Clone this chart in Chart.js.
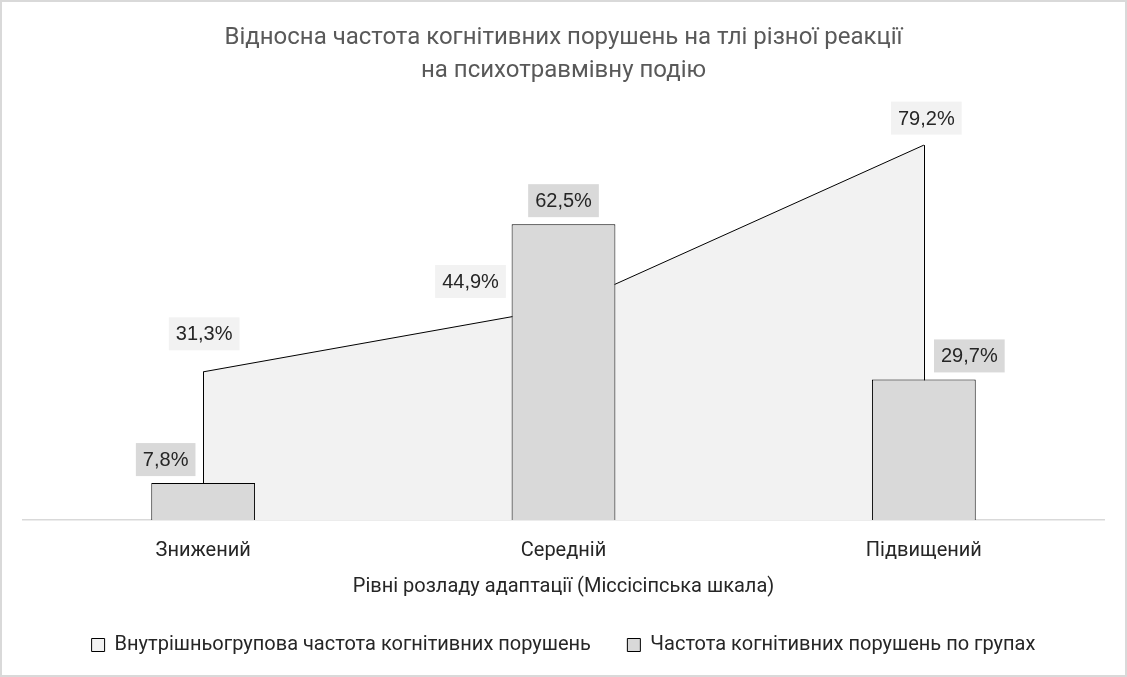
<!DOCTYPE html>
<html lang="uk">
<head>
<meta charset="utf-8">
<script src="https://cdn.jsdelivr.net/npm/chart.js@4"></script>
<style>
  html, body { margin: 0; padding: 0; background: #fff; }
  #wrap { position: relative; width: 1127px; height: 677px; }
  #frame { position: absolute; left: 0; top: 0; width: 1127px; height: 677px; box-sizing: border-box;
           border: 2px solid #d9d9d9; pointer-events: none; }
  canvas { position: absolute; left: 0; top: 0; }
</style>
</head>
<body>
<div id="wrap">
  <canvas id="c" width="1127" height="677"></canvas>
  <div id="frame"></div>
</div>
<script>
// ---- data ----
const categories = ['Знижений', 'Середній', 'Підвищений'];
const withinGroupLabel = 'Внутрішньогрупова частота когнітивних порушень';
const withinGroupValues = [31.3, 44.9, 79.2];
const byGroupLabel = 'Частота когнітивних порушень по групах';
const byGroupValues = [7.8, 62.5, 29.7];
const titleLines = ['Відносна частота когнітивних порушень на тлі різної реакції', 'на психотравмівну подію'];
const xAxisTitle = 'Рівні розладу адаптації (Міссісіпська шкала)';

const TXTFONT = 'Roboto, "Noto Sans", sans-serif';
const LABELFONT = '"Liberation Sans", Arial, sans-serif';

function fmt(v) { return v.toFixed(1).replace('.', ',') + '%'; }

// draws vertical edges of the area series
const areaEdges = {
  id: 'areaEdges',
  afterDatasetDraw(chart, args) {
    if (args.index !== 0) return;
    const pts = args.meta.data;
    if (!pts.length) return;
    const y0 = chart.scales.y.getPixelForValue(0);
    const ctx = chart.ctx;
    ctx.save();
    ctx.strokeStyle = '#000';
    ctx.lineWidth = 1;
    [pts[0], pts[pts.length - 1]].forEach(p => {
      ctx.beginPath();
      ctx.moveTo(Math.round(p.x) + 0.5, p.y);
      ctx.lineTo(Math.round(p.x) + 0.5, y0);
      ctx.stroke();
    });
    ctx.restore();
  }
};

// data labels with background boxes
const valueLabels = {
  id: 'valueLabels',
  afterDatasetsDraw(chart, args, opts) {
    const ctx = chart.ctx;
    ctx.save();
    ctx.font = '20px ' + LABELFONT;
    ctx.textAlign = 'center';
    ctx.textBaseline = 'middle';
    chart.data.datasets.forEach((ds, di) => {
      const meta = chart.getDatasetMeta(di);
      const offs = opts.offsets[di];
      const bg = opts.backgrounds[di];
      meta.data.forEach((el, i) => {
        const txt = fmt(ds.data[i]);
        const cx = el.x + offs[i][0];
        const cy = el.y + offs[i][1];
        const w = ctx.measureText(txt).width + 14;
        const h = 33;
        ctx.fillStyle = bg;
        ctx.fillRect(cx - w / 2, cy - h / 2, w, h);
        ctx.fillStyle = '#262626';
        ctx.fillText(txt, cx, cy + 1);
      });
    });
    ctx.restore();
  }
};

new Chart(document.getElementById('c'), {
  data: {
    labels: categories,
    datasets: [
      {
        type: 'line',
        label: withinGroupLabel,
        data: withinGroupValues,
        fill: 'origin',
        backgroundColor: '#f2f2f2',
        borderColor: '#000',
        borderWidth: 1,
        pointRadius: 0,
        tension: 0,
        order: 1
      },
      {
        type: 'bar',
        label: byGroupLabel,
        data: byGroupValues,
        backgroundColor: '#d9d9d9',
        borderColor: '#000',
        borderWidth: 1,
        categoryPercentage: 1,
        barPercentage: 0.288,
        order: 0
      }
    ]
  },
  options: {
    responsive: false,
    animation: false,
    devicePixelRatio: 1,
    layout: { padding: { left: 23, right: 23, top: 0, bottom: 12 } },
    scales: {
      x: {
        offset: true,
        grid: { display: false, drawTicks: false },
        border: { display: true, color: '#d9d9d9', width: 1.5 },
        ticks: { color: '#262626', font: { family: TXTFONT, size: 20 }, padding: 19 },
        title: { display: true, text: xAxisTitle, color: '#262626',
                 font: { family: TXTFONT, size: 20 }, padding: { top: -7, bottom: 20 } }
      },
      y: { display: false, min: 0, max: 90 }
    },
    plugins: {
      title: {
        display: true, text: titleLines, color: '#595959',
        font: { family: TXTFONT, size: 24, weight: 'normal', lineHeight: 1.375 },
        padding: { top: 21, bottom: 7 }
      },
      legend: {
        position: 'bottom',
        labels: {
          color: '#262626',
          font: { family: TXTFONT, size: 20 },
          boxWidth: 13, boxHeight: 13, padding: 16,
          sort: (a, b) => a.datasetIndex - b.datasetIndex,
          generateLabels(chart) {
            const items = Chart.defaults.plugins.legend.labels.generateLabels(chart);
            items.forEach(it => {
              const ds = chart.data.datasets[it.datasetIndex];
              it.fillStyle = ds.backgroundColor;
              it.strokeStyle = '#000';
              it.lineWidth = 1;
              if (it.datasetIndex === 0) it.text = it.text + '\u2003';
            });
            return items;
          }
        }
      },
      tooltip: { enabled: false },
      valueLabels: {
        offsets: [
          [[1, -38], [-93, -26], [2.5, -27]],
          [[-37.5, -23.5], [0, -23.5], [45.5, -23.5]]
        ],
        backgrounds: ['#f2f2f2', '#d9d9d9']
      }
    }
  },
  plugins: [areaEdges, valueLabels]
});
</script>
</body>
</html>
